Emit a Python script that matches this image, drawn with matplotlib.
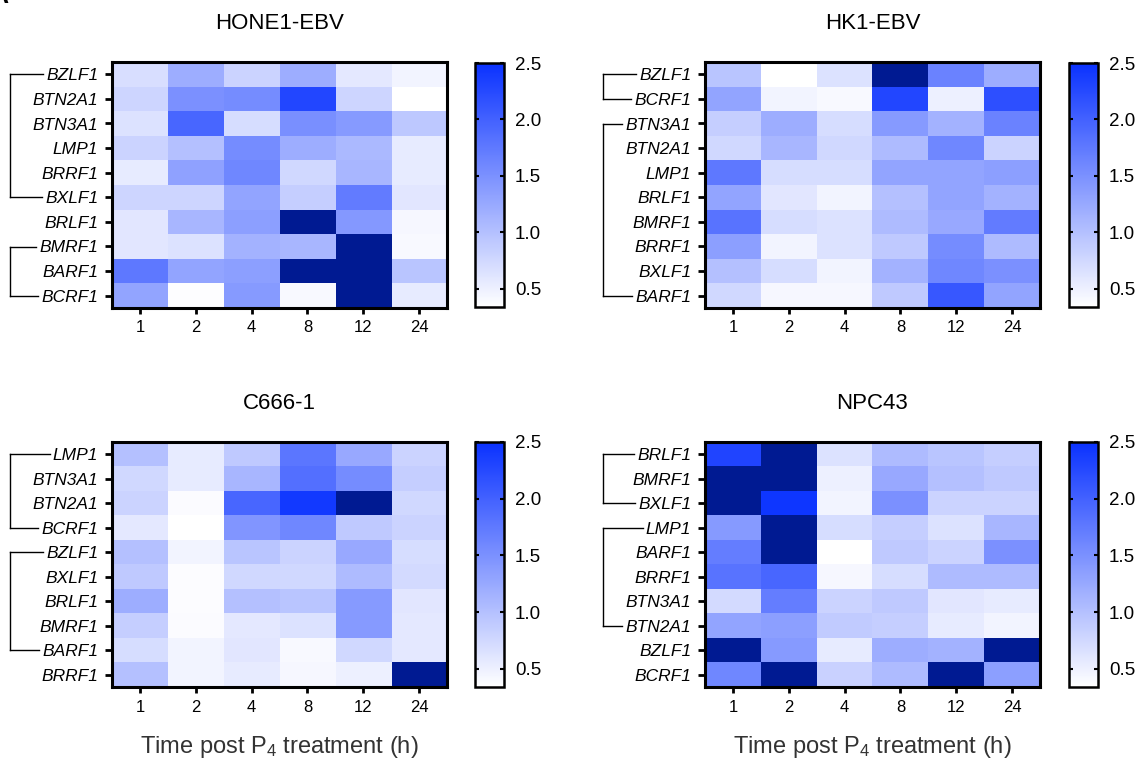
import numpy as np
import matplotlib
matplotlib.use('Agg')
import matplotlib.pyplot as plt
from matplotlib.colors import LinearSegmentedColormap, Normalize
from matplotlib.lines import Line2D

plt.rcParams['font.family'] = ['Liberation Sans', 'DejaVu Sans']
plt.rcParams['mathtext.fontset'] = 'custom'
plt.rcParams['mathtext.rm'] = 'Liberation Sans'
plt.rcParams['mathtext.it'] = 'Liberation Sans:italic'

# time points (h)
time_labels = ['1', '2', '4', '8', '12', '24']

# relative expression, values > 2.5 are off scale (drawn dark navy)
hone1_genes = ['BZLF1', 'BTN2A1', 'BTN3A1', 'LMP1', 'BRRF1', 'BXLF1',
               'BRLF1', 'BMRF1', 'BARF1', 'BCRF1']
hone1_values = [
    [0.68, 1.20, 0.80, 1.20, 0.58, 0.45],
    [0.78, 1.50, 1.55, 2.28, 0.78, 0.34],
    [0.65, 1.95, 0.70, 1.52, 1.40, 0.92],
    [0.80, 1.00, 1.55, 1.20, 1.08, 0.55],
    [0.55, 1.32, 1.60, 0.75, 1.10, 0.55],
    [0.78, 0.78, 1.30, 0.85, 1.72, 0.60],
    [0.60, 1.10, 1.35, 2.80, 1.42, 0.42],
    [0.60, 0.65, 1.15, 1.10, 2.80, 0.40],
    [1.75, 1.30, 1.35, 2.80, 2.80, 0.95],
    [1.30, 0.36, 1.40, 0.40, 2.80, 0.55],
]
hone1_groups = [(0, 5), (7, 9)]

hk1_genes = ['BZLF1', 'BCRF1', 'BTN3A1', 'BTN2A1', 'LMP1', 'BRLF1',
             'BMRF1', 'BRRF1', 'BXLF1', 'BARF1']
hk1_values = [
    [0.95, 0.34, 0.65, 2.80, 1.65, 1.20],
    [1.30, 0.45, 0.40, 2.28, 0.50, 2.18],
    [0.85, 1.20, 0.70, 1.40, 1.15, 1.65],
    [0.75, 1.10, 0.75, 1.05, 1.60, 0.80],
    [1.75, 0.70, 0.70, 1.30, 1.30, 1.35],
    [1.30, 0.60, 0.45, 1.00, 1.30, 1.15],
    [1.80, 0.70, 0.65, 1.05, 1.25, 1.72],
    [1.35, 0.45, 0.65, 0.90, 1.55, 1.05],
    [1.00, 0.70, 0.45, 1.15, 1.60, 1.50],
    [0.75, 0.42, 0.42, 0.90, 2.10, 1.30],
]
hk1_groups = [(0, 1), (2, 9)]

c666_genes = ['LMP1', 'BTN3A1', 'BTN2A1', 'BCRF1', 'BZLF1', 'BXLF1',
              'BRLF1', 'BMRF1', 'BARF1', 'BRRF1']
c666_values = [
    [1.00, 0.55, 0.90, 1.78, 1.25, 0.80],
    [0.75, 0.55, 1.10, 1.85, 1.55, 0.85],
    [0.80, 0.38, 1.95, 2.42, 2.80, 0.75],
    [0.58, 0.34, 1.45, 1.60, 0.90, 0.80],
    [1.00, 0.45, 0.95, 0.80, 1.25, 0.70],
    [0.90, 0.37, 0.75, 0.75, 1.05, 0.72],
    [1.20, 0.37, 1.00, 0.95, 1.40, 0.60],
    [0.85, 0.38, 0.58, 0.65, 1.40, 0.58],
    [0.70, 0.45, 0.60, 0.40, 0.75, 0.58],
    [1.00, 0.45, 0.55, 0.42, 0.50, 2.80],
]
c666_groups = [(0, 3), (4, 8)]

npc43_genes = ['BRLF1', 'BMRF1', 'BXLF1', 'LMP1', 'BARF1', 'BRRF1',
               'BTN3A1', 'BTN2A1', 'BZLF1', 'BCRF1']
npc43_values = [
    [2.30, 2.80, 0.65, 1.05, 0.95, 0.85],
    [2.80, 2.80, 0.50, 1.25, 1.00, 0.90],
    [2.80, 2.45, 0.45, 1.50, 0.80, 0.80],
    [1.40, 2.80, 0.70, 0.85, 0.65, 1.10],
    [1.70, 2.80, 0.34, 0.90, 0.80, 1.50],
    [1.80, 1.95, 0.42, 0.70, 1.05, 1.05],
    [0.72, 1.70, 0.80, 0.90, 0.60, 0.55],
    [1.30, 1.35, 0.88, 0.85, 0.55, 0.45],
    [2.80, 1.40, 0.55, 1.20, 1.15, 2.80],
    [1.60, 2.80, 0.82, 1.05, 2.80, 1.35],
]
npc43_groups = [(0, 2), (3, 7)]

cmap = LinearSegmentedColormap.from_list('white_blue', ['#ffffff', '#0a32ff'])
cmap.set_over('#001a92')
norm = Normalize(vmin=0.34, vmax=2.5)

W, H = 1145, 763
fig = plt.figure(figsize=(W / 100, H / 100), dpi=100)


def rect(x0, y0, x1, y1):
    # pixel box (top-left origin) -> figure fraction rect
    return [x0 / W, 1 - y1 / H, (x1 - x0) / W, (y1 - y0) / H]


panels = [
    ('HONE1-EBV', hone1_genes, hone1_values, hone1_groups,
     (112, 62, 447, 308), (475, 63, 504, 307), False),
    ('HK1-EBV', hk1_genes, hk1_values, hk1_groups,
     (705, 62, 1040, 308), (1069, 63, 1098, 307), False),
    ('C666-1', c666_genes, c666_values, c666_groups,
     (112, 442, 447, 687), (475, 442, 504, 687), True),
    ('NPC43', npc43_genes, npc43_values, npc43_groups,
     (705, 442, 1040, 687), (1069, 442, 1098, 687), True),
]

axes = []
for title, genes, vals, groups, box, cbox, xlab in panels:
    ax = fig.add_axes(rect(*box))
    im = ax.imshow(np.array(vals), cmap=cmap, norm=norm, aspect='auto',
                   interpolation='nearest')
    ax.set_xticks(range(len(time_labels)))
    ax.set_xticklabels(time_labels, fontsize=12)
    ax.set_yticks(range(len(genes)))
    ax.set_yticklabels(genes, fontsize=12.5, style='italic')
    ax.tick_params(axis='x', length=4, width=2, pad=5)
    ax.tick_params(axis='y', length=5, width=2, pad=5)
    for s in ax.spines.values():
        s.set_linewidth(2.2)
    ax.set_title(title, fontsize=16, pad=24)
    if xlab:
        ax.set_xlabel('Time post P$_4$ treatment (h)', fontsize=17,
                      color='#333333', labelpad=14)

    cax = fig.add_axes(rect(*cbox))
    cb = fig.colorbar(im, cax=cax)
    cb.set_ticks([0.5, 1.0, 1.5, 2.0, 2.5])
    cb.set_ticklabels(['0.5', '1.0', '1.5', '2.0', '2.5'])
    cb.outline.set_linewidth(1.8)
    cax.tick_params(direction='in', left=True, right=True, length=3,
                    width=1.5, labelsize=13.5, pad=8)
    axes.append((ax, groups))

# bracket lines left of the gene names
fig.canvas.draw()
renderer = fig.canvas.get_renderer()
for ax, groups in axes:
    labels = ax.get_yticklabels()
    xv = ax.get_window_extent().x0 - 102
    for r0, r1 in groups:
        ys = []
        for r in (r0, r1):
            y = ax.transData.transform((0, r))[1]
            xe = labels[r].get_window_extent(renderer).x0 - 3
            fig.add_artist(Line2D([xv / W, xe / W], [y / H, y / H],
                                  transform=fig.transFigure, color='black',
                                  lw=1.0))
            ys.append(y)
        fig.add_artist(Line2D([xv / W, xv / W], [ys[0] / H, ys[1] / H],
                              transform=fig.transFigure, color='black', lw=1.0))

# panel letter, cut off at the top-left corner
fig.text(8 / W, 1 - 3 / H, 'A', fontsize=18, fontweight='bold',
         ha='right', va='baseline')

fig.savefig('out.png', dpi=100)
